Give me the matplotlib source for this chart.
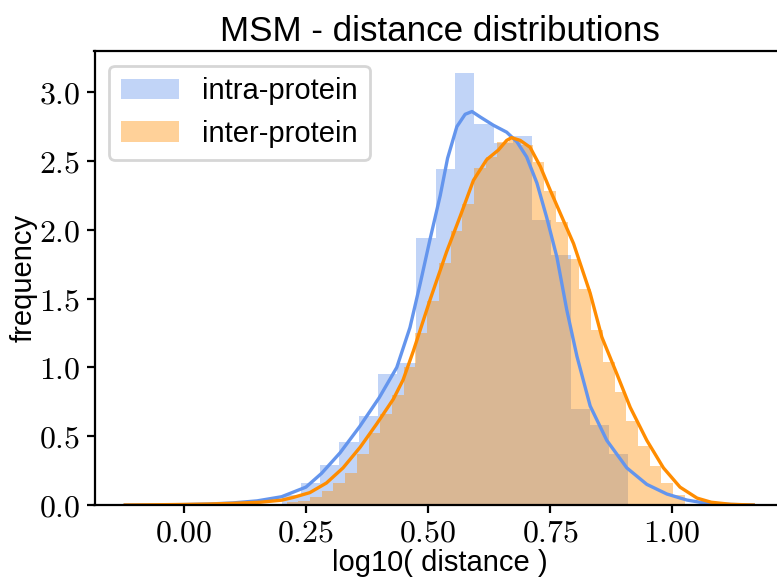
import numpy as np
import matplotlib
matplotlib.use("Agg")
import matplotlib.pyplot as plt
from matplotlib.ticker import FuncFormatter

# histogram bins (density, log10 distance)
intra_start, intra_width = 0.2002, 0.03945
intra_heights = [0.07, 0.16, 0.29, 0.46, 0.65, 0.95, 1.03, 1.94, 2.44, 3.14,
                 2.77, 2.63, 2.68, 2.07, 1.82, 0.70, 0.58, 0.37]

inter_start, inter_width = 0.1865, 0.02398
inter_heights = [0.01, 0.02, 0.03, 0.06, 0.10, 0.16, 0.23, 0.37, 0.52, 0.66,
                 0.80, 1.00, 1.25, 1.48, 1.76, 1.99, 2.19, 2.45, 2.53, 2.64,
                 2.66, 2.62, 2.49, 2.28, 2.06, 1.79, 1.57, 1.27, 1.04, 0.82,
                 0.61, 0.43, 0.28, 0.16, 0.07]

# kde curves
intra_kde_x = [-0.12, -0.05, 0.0, 0.05, 0.10, 0.15, 0.20, 0.25, 0.282, 0.32,
               0.36, 0.40, 0.436, 0.463, 0.484, 0.504, 0.525, 0.540, 0.559, 0.576,
               0.590, 0.607, 0.634, 0.661, 0.682, 0.702, 0.723, 0.743, 0.764, 0.784,
               0.805, 0.832, 0.866, 0.907, 0.948, 0.989, 1.030, 1.057, 1.10, 1.14, 1.166]
intra_kde_y = [0.0, 0.001, 0.003, 0.007, 0.015, 0.03, 0.06, 0.13, 0.23, 0.38,
               0.57, 0.78, 1.00, 1.29, 1.61, 1.93, 2.25, 2.52, 2.75, 2.84,
               2.86, 2.82, 2.76, 2.71, 2.64, 2.53, 2.34, 2.09, 1.80, 1.42,
               1.08, 0.72, 0.47, 0.27, 0.15, 0.08, 0.036, 0.02, 0.006, 0.002, 0.0]

inter_kde_x = [-0.12, -0.05, 0.0, 0.05, 0.10, 0.156, 0.20, 0.224, 0.258, 0.292,
               0.326, 0.361, 0.395, 0.429, 0.449, 0.470, 0.504, 0.538, 0.566, 0.593,
               0.620, 0.644, 0.661, 0.671, 0.689, 0.709, 0.730, 0.750, 0.777, 0.798,
               0.832, 0.856, 0.887, 0.914, 0.948, 0.982, 1.016, 1.051, 1.08, 1.12, 1.166]
inter_kde_y = [0.0, 0.002, 0.004, 0.007, 0.012, 0.02, 0.035, 0.055, 0.09, 0.16,
               0.27, 0.42, 0.59, 0.77, 0.91, 1.12, 1.49, 1.84, 2.10, 2.36,
               2.51, 2.58, 2.65, 2.67, 2.65, 2.60, 2.46, 2.29, 2.07, 1.90,
               1.54, 1.22, 0.95, 0.71, 0.47, 0.27, 0.13, 0.05, 0.02, 0.005, 0.0]

plt.rcParams['font.family'] = ['Liberation Sans', 'DejaVu Sans']
plt.rcParams['font.size'] = 10.5
plt.rcParams['mathtext.fontset'] = 'cm'

fig = plt.figure(figsize=(7.77 / 2, 5.78 / 2), dpi=200)
ax = fig.add_axes([94.5 / 777, 73 / 578, 690.5 / 777, 454 / 578])

intra_left = intra_start + intra_width * np.arange(len(intra_heights))
inter_left = inter_start + inter_width * np.arange(len(inter_heights))

h1 = ax.bar(intra_left, intra_heights, width=intra_width, align='edge',
            color='cornflowerblue', alpha=0.4, linewidth=0, label='intra-protein')
ax.plot(intra_kde_x, intra_kde_y, color='cornflowerblue', lw=1.2)
h2 = ax.bar(inter_left, inter_heights, width=inter_width, align='edge',
            color='darkorange', alpha=0.4, linewidth=0, label='inter-protein')
ax.plot(inter_kde_x, inter_kde_y, color='darkorange', lw=1.2)

ax.set_xlim(-0.183, 1.231)
ax.set_ylim(0, 3.3)
ax.set_xticks([0.0, 0.25, 0.5, 0.75, 1.0])
ax.set_yticks([0.0, 0.5, 1.0, 1.5, 2.0, 2.5, 3.0])
ax.xaxis.set_major_formatter(FuncFormatter(lambda v, p: '$%.2f$' % v))
ax.yaxis.set_major_formatter(FuncFormatter(lambda v, p: '$%.1f$' % v))
ax.tick_params(length=3, pad=2, labelsize=11.5)

ax.set_title('MSM - distance distributions', fontsize=12.6, pad=3.5)
ax.set_xlabel('log10( distance )')
ax.set_ylabel('frequency')
ax.xaxis.set_label_coords(0.5, -0.097)
ax.yaxis.set_label_coords(-0.082, 0.5)
ax.legend(handles=[h1, h2], loc='upper left')

fig.savefig('out.png', dpi=200)
